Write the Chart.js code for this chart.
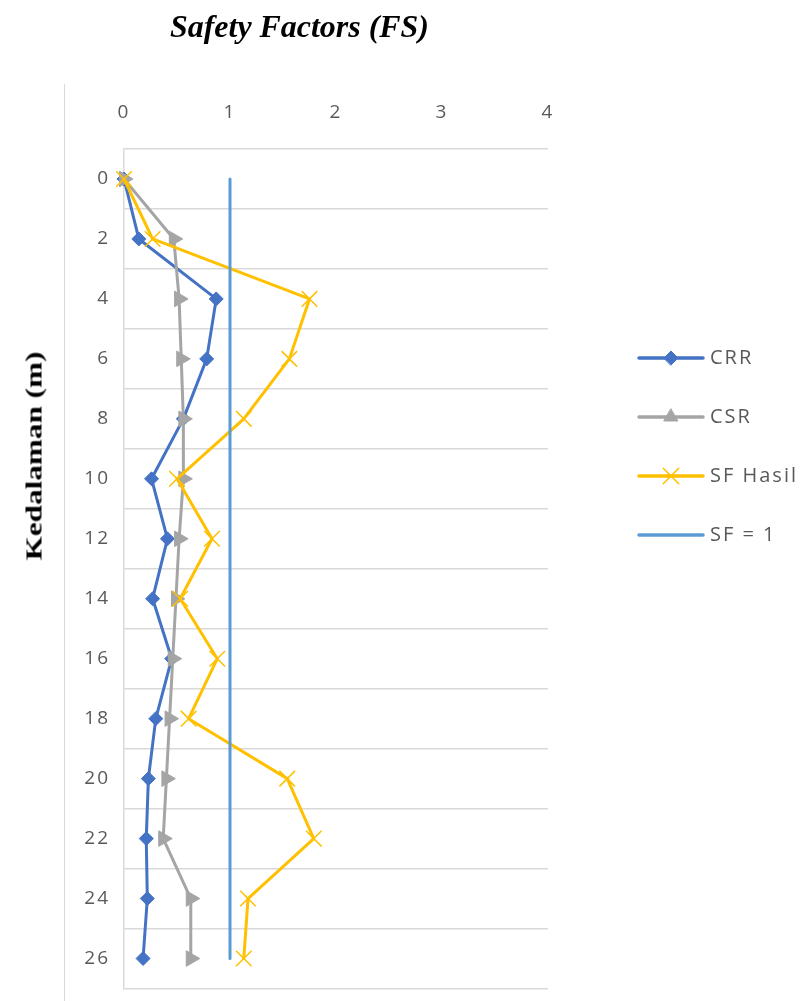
<!DOCTYPE html>
<html>
<head>
<meta charset="utf-8">
<script src="https://cdn.jsdelivr.net/npm/chart.js@4.4.1/dist/chart.umd.min.js"></script>
<style>
  html, body { margin: 0; padding: 0; background: #fff; overflow: hidden; width: 803px; height: 1001px; }
  #wrap { position: relative; width: 803px; height: 1001px; overflow: hidden; }
  #chartBox { position: absolute; left: 0; top: 0; width: 803px; height: 1001px; }
  #frameLine { position: absolute; left: 64px; top: 84px; height: 917px; border-left: 1.5px solid #d9d9d9; }
  #mainTitle {
    position: absolute; left: 170px; top: 9px; white-space: nowrap;
    font-family: "Liberation Serif", "Times New Roman", serif;
    font-weight: bold; font-style: italic; font-size: 31px; color: #000;
    transform-origin: left center; transform: scaleX(1.03);
  }
  #depthTitle {
    position: absolute; left: 34px; top: 456px; white-space: nowrap;
    font-family: "Liberation Serif", "Times New Roman", serif;
    font-weight: bold; font-size: 24px; color: #000;
    transform: translate(-50%, -50%) rotate(-90deg) scaleX(1.3);
  }
</style>
</head>
<body>
<div id="wrap">
  <div id="frameLine"></div>
  <div id="chartBox"><canvas id="fsChart" width="803" height="1001"></canvas></div>
  <div id="mainTitle">Safety Factors (FS)</div>
  <div id="depthTitle">Kedalaman (m)</div>
</div>
<script>
// Depth levels (m) shown on the vertical axis
const depths = ['0', '2', '4', '6', '8', '10', '12', '14', '16', '18', '20', '22', '24', '26'];
// Cyclic resistance ratio
const crr = [0, 0.14, 0.87, 0.78, 0.56, 0.26, 0.41, 0.27, 0.45, 0.30, 0.23, 0.21, 0.22, 0.18];
// Cyclic stress ratio
const csr = [0, 0.47, 0.52, 0.54, 0.56, 0.56, 0.52, 0.49, 0.46, 0.43, 0.40, 0.37, 0.63, 0.63];
// Resulting safety factor
const sfHasil = [0, 0.27, 1.75, 1.56, 1.13, 0.50, 0.83, 0.53, 0.88, 0.61, 1.54, 1.79, 1.17, 1.13];
// Reference line SF = 1
const sfLimit = [1, 1, 1, 1, 1, 1, 1, 1, 1, 1, 1, 1, 1, 1];
// Safety-factor axis ticks
const fsTicks = [0, 1, 2, 3, 4];

const COLORS = { crr: '#4472C4', csr: '#A5A5A5', sf: '#FFC000', limit: '#5B9BD5' };
const TICK_COLOR = '#595959';
const GRID_COLOR = '#d9d9d9';
const TEXT_FONT = '"Open Sans", sans-serif';

// Legend icons: a short line segment with the series marker in the middle
function makeLegendIcon(color, marker) {
  const c = document.createElement('canvas');
  c.width = 68; c.height = 22;
  const g = c.getContext('2d');
  g.strokeStyle = color; g.fillStyle = color;
  g.lineWidth = 3.5; g.lineCap = 'round';
  g.beginPath(); g.moveTo(2, 11); g.lineTo(66, 11); g.stroke();
  if (marker) {
    g.lineWidth = marker.borderWidth;
    Chart.helpers.drawPoint(g, {
      pointStyle: marker.style, rotation: marker.rotation || 0,
      radius: marker.radius, borderWidth: marker.borderWidth
    }, 34, 11);
  }
  return c;
}

const legendIcons = [
  makeLegendIcon(COLORS.crr, { style: 'rectRot', radius: 7, borderWidth: 1 }),
  makeLegendIcon(COLORS.csr, { style: 'triangle', radius: 8, borderWidth: 1 }),
  makeLegendIcon(COLORS.sf, { style: 'crossRot', radius: 11, borderWidth: 1.5 }),
  makeLegendIcon(COLORS.limit, null)
];

// Slightly widened lettering for axis and legend text
const textSpacing = {
  id: 'textSpacing',
  beforeLayout(chart) { chart.ctx.letterSpacing = '2px'; },
  beforeDraw(chart) { chart.ctx.letterSpacing = '2px'; }
};

new Chart(document.getElementById('fsChart'), {
  type: 'line',
  data: {
    labels: depths,
    datasets: [
      {
        label: 'CRR', data: crr, order: 3,
        borderColor: COLORS.crr, backgroundColor: COLORS.crr, borderWidth: 3,
        pointStyle: 'rectRot', pointRadius: 7, pointBorderWidth: 1,
        pointBackgroundColor: COLORS.crr, pointBorderColor: COLORS.crr
      },
      {
        label: 'CSR', data: csr, order: 2,
        borderColor: COLORS.csr, backgroundColor: COLORS.csr, borderWidth: 3,
        pointStyle: 'triangle', pointRotation: 90, pointRadius: 9, pointBorderWidth: 1,
        pointBackgroundColor: COLORS.csr, pointBorderColor: COLORS.csr
      },
      {
        label: 'SF Hasil', data: sfHasil, order: 1,
        borderColor: COLORS.sf, backgroundColor: COLORS.sf, borderWidth: 3,
        pointStyle: 'crossRot', pointRadius: 11, pointBorderWidth: 1.5,
        pointBackgroundColor: COLORS.sf, pointBorderColor: COLORS.sf
      },
      {
        label: 'SF = 1', data: sfLimit, order: 0,
        borderColor: COLORS.limit, backgroundColor: COLORS.limit, borderWidth: 3,
        pointRadius: 0, borderCapStyle: 'butt'
      }
    ]
  },
  options: {
    indexAxis: 'y',
    responsive: false,
    animation: false,
    devicePixelRatio: 1,
    datasets: { line: { clip: false, tension: 0, borderJoinStyle: 'round', borderCapStyle: 'round' } },
    layout: { padding: { left: 0, top: 0, right: 0, bottom: 11 } },
    plugins: {
      tooltip: { enabled: false },
      legend: {
        position: 'right',
        align: 'start',
        maxWidth: 200,
        title: { display: true, text: '', font: { size: 10 }, padding: { top: 297, bottom: 0 } },
        labels: {
          usePointStyle: true,
          pointStyleWidth: 58,
          padding: 39,
          color: TICK_COLOR,
          font: { family: TEXT_FONT, size: 20 },
          generateLabels: chart => chart.data.datasets.map((ds, i) => ({
            text: ds.label,
            pointStyle: legendIcons[i],
            fillStyle: ds.borderColor,
            strokeStyle: ds.borderColor,
            fontColor: TICK_COLOR,
            lineWidth: 0,
            hidden: false,
            datasetIndex: i
          }))
        }
      }
    },
    scales: {
      x: {
        type: 'linear',
        position: 'top',
        min: 0, max: 4,
        afterBuildTicks: scale => { scale.ticks = fsTicks.map(v => ({ value: v })); },
        grid: { display: false, drawTicks: false },
        border: { display: false },
        ticks: { color: TICK_COLOR, padding: 25, font: { family: TEXT_FONT, size: 19 } },
        afterFit: scale => { scale.height = 149; }
      },
      y: {
        type: 'category',
        position: 'left',
        offset: true,
        grid: { offset: true, color: GRID_COLOR, lineWidth: 1.5, drawTicks: false },
        border: { display: true, color: GRID_COLOR, width: 1.5 },
        ticks: { color: TICK_COLOR, padding: 14, autoSkip: false, font: { family: TEXT_FONT, size: 19 } },
        afterFit: scale => {
          scale.width = 124;
          scale.paddingTop = 0;
          scale.paddingBottom = 0;
        }
      },
      gap: {
        type: 'linear',
        position: 'right',
        display: true,
        grid: { display: false, drawTicks: false },
        border: { display: false },
        ticks: { display: false },
        afterFit: scale => { scale.width = 55; }
      }
    }
  },
  plugins: [textSpacing]
});
</script>
</body>
</html>
